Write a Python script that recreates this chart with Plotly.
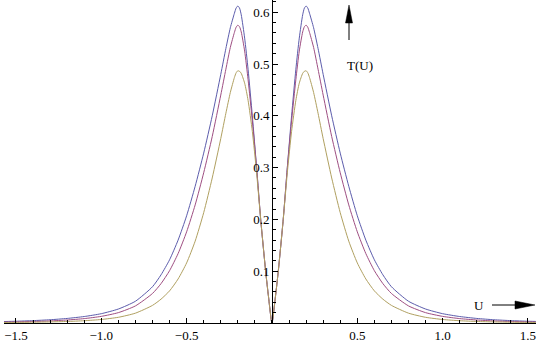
import plotly.graph_objects as go

# Positive half of U (curves are symmetric about U = 0)
U_pos = [0.0, 0.02, 0.037, 0.066, 0.09, 0.115, 0.14, 0.16, 0.18, 0.19, 0.2, 0.21,
         0.22, 0.244, 0.27, 0.3, 0.35, 0.4, 0.45, 0.5, 0.55, 0.6, 0.65, 0.7, 0.8,
         0.9, 1.0, 1.1, 1.2, 1.3, 1.4, 1.5, 1.57]

T_blue = [0.0, 0.05, 0.1, 0.2, 0.3, 0.4, 0.49, 0.55, 0.595, 0.608, 0.612, 0.608,
          0.598, 0.57, 0.53, 0.48, 0.40, 0.328, 0.264, 0.207, 0.16, 0.122, 0.093,
          0.070, 0.042, 0.027, 0.018, 0.0125, 0.0088, 0.0063, 0.0046, 0.0034, 0.0028]
T_purple = [0.0, 0.05, 0.1, 0.2, 0.3, 0.39, 0.47, 0.525, 0.562, 0.572, 0.575, 0.571,
            0.561, 0.532, 0.49, 0.44, 0.36, 0.29, 0.228, 0.176, 0.134, 0.101, 0.076,
            0.057, 0.033, 0.020, 0.0128, 0.0085, 0.0058, 0.004, 0.0029, 0.0021, 0.0017]
T_yellow = [0.0, 0.05, 0.1, 0.2, 0.29, 0.37, 0.43, 0.463, 0.482, 0.486, 0.487, 0.483,
            0.474, 0.445, 0.405, 0.356, 0.28, 0.213, 0.158, 0.116, 0.085, 0.062, 0.046,
            0.034, 0.019, 0.011, 0.0068, 0.0044, 0.003, 0.0021, 0.0015, 0.0011, 0.0009]

x_ticks = [-1.5, -1.0, -0.5, 0.5, 1.0, 1.5]
x_ticktext = ["\u22121.5", "\u22121.0", "\u22120.5", "0.5", "1.0", "1.5"]
y_ticks = [0.1, 0.2, 0.3, 0.4, 0.5, 0.6]
y_ticktext = ["0.1", "0.2", "0.3", "0.4", "0.5", "0.6"]


def mirror(xs, ys):
    fx = [-v for v in reversed(xs)] + xs[1:]
    fy = list(reversed(ys)) + ys[1:]
    return fx, fy


series = [
    (T_blue, "rgb(92,92,172)"),
    (T_purple, "rgb(158,78,130)"),
    (T_yellow, "rgb(176,160,96)"),
]

fig = go.Figure()
for ys, col in series:
    fx, fy = mirror(U_pos, ys)
    fig.add_trace(go.Scatter(x=fx, y=fy, mode="lines",
                             line=dict(color=col, width=1, shape="spline", smoothing=0.6),
                             hoverinfo="skip", showlegend=False))

W, H = 540, 344
ml, mr, mt, mb = 4, 4, 0, 21
pw, ph = W - ml - mr, H - mt - mb
x0_px = 272  # pixel of U = 0
ypos = (x0_px - ml) / pw


def px(x):
    return (x - ml) / pw


def py(y):
    return (H - mb - y) / ph


font = dict(family="Liberation Serif, Times New Roman, serif", size=13, color="black")

fig.update_layout(
    width=W, height=H,
    margin=dict(l=ml, r=mr, t=mt, b=mb, pad=0, autoexpand=False),
    paper_bgcolor="white", plot_bgcolor="white",
    font=font,
    xaxis=dict(range=[-1.570, 1.547], showgrid=False, zeroline=False, automargin=False,
               showline=True, linecolor="black", linewidth=1,
               tickmode="array", tickvals=x_ticks, ticktext=x_ticktext,
               ticks="inside", ticklen=5, tickcolor="black", tickwidth=1,
               minor=dict(tickmode="linear", tick0=0, dtick=0.1, ticks="inside",
                          ticklen=3, tickcolor="black", tickwidth=1),
               tickfont=font, fixedrange=True),
    yaxis=dict(range=[0, 0.6236], showgrid=False, zeroline=False, automargin=False,
               anchor="free", position=ypos, side="left",
               showline=True, linecolor="black", linewidth=1,
               tickmode="array", tickvals=y_ticks, ticktext=y_ticktext,
               ticks="inside", ticklen=5, tickcolor="black", tickwidth=1,
               minor=dict(tickmode="linear", tick0=0, dtick=0.02, ticks="inside",
                          ticklen=3, tickcolor="black", tickwidth=1),
               tickfont=font, fixedrange=True),
)

# Arrows (Mathematica-style filled heads)
shapes = [
    dict(type="line", xref="paper", yref="paper", x0=px(349), x1=px(349), y0=py(40), y1=py(21),
         line=dict(color="black", width=1)),
    dict(type="path", xref="paper", yref="paper",
         path=f"M {px(345.5)},{py(23)} L {px(349)},{py(5)} L {px(352.5)},{py(23)} Z",
         fillcolor="black", line=dict(color="black", width=0.5)),
    dict(type="line", xref="paper", yref="paper", x0=px(492), x1=px(517), y0=py(305), y1=py(305),
         line=dict(color="black", width=1)),
    dict(type="path", xref="paper", yref="paper",
         path=f"M {px(515)},{py(301)} L {px(535)},{py(305)} L {px(515)},{py(309)} Z",
         fillcolor="black", line=dict(color="black", width=0.5)),
]
fig.update_layout(shapes=shapes)

fig.add_annotation(x=px(359.5), y=py(65), xref="paper", yref="paper", text="T(U)",
                   showarrow=False, font=font, xanchor="center", yanchor="middle")
fig.add_annotation(x=px(479), y=py(305), xref="paper", yref="paper", text="U",
                   showarrow=False, font=font, xanchor="center", yanchor="middle")

fig.write_html("out.html", config={"displayModeBar": False, "staticPlot": True},
               post_script="document.body.style.margin='0';document.body.style.padding='0';")
